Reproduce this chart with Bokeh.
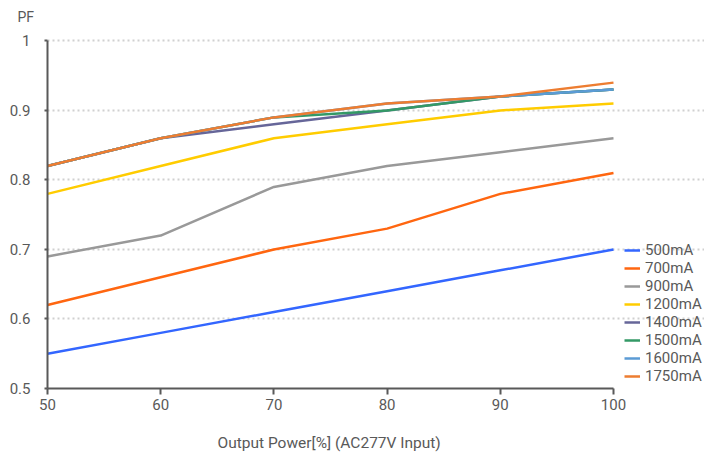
from bokeh.plotting import figure
from bokeh.models import Legend, LegendItem, FixedTicker, Title
from bokeh.embed import file_html
from bokeh.resources import INLINE

x_vals = [50, 60, 70, 80, 90, 100]
series_names = ["500mA", "700mA", "900mA", "1200mA", "1400mA", "1500mA", "1600mA", "1750mA"]
pf_500 = [0.55, 0.58, 0.61, 0.64, 0.67, 0.70]
pf_700 = [0.62, 0.66, 0.70, 0.73, 0.78, 0.81]
pf_900 = [0.69, 0.72, 0.79, 0.82, 0.84, 0.86]
pf_1200 = [0.78, 0.82, 0.86, 0.88, 0.90, 0.91]
pf_1400 = [0.82, 0.86, 0.88, 0.90, 0.92, 0.93]
pf_1500 = [0.82, 0.86, 0.89, 0.90, 0.92, 0.93]
pf_1600 = [0.82, 0.86, 0.89, 0.91, 0.92, 0.93]
pf_1750 = [0.82, 0.86, 0.89, 0.91, 0.92, 0.94]
colors = ["#3366ff", "#ff6610", "#999999", "#ffcc00", "#666699", "#339966", "#5b9bd5", "#ed7d31"]
y_ticks = [0.5, 0.6, 0.7, 0.8, 0.9, 1.0]
x_ticks = [50, 60, 70, 80, 90, 100]

FONT = "Roboto"
TXT = "#595959"

# The frame reaches the right edge (legend drawn inside it) and a little above 1.0;
# axis lines and grid are bounded to the data domain.
p = figure(width=704, height=457, output_backend="svg", toolbar_location=None,
           x_range=(50, 108.04), y_range=(0.5, 1.0078))
p.min_border_left = 47
p.min_border_top = 35
p.min_border_bottom = 69
p.min_border_right = 0
p.outline_line_color = None
p.background_fill_color = "white"
p.border_fill_color = "white"

p.title.text = "PF"
p.title.align = "left"
p.title.vertical_align = "top"
p.title.offset = -30
p.title.standoff = 17
p.title.text_font = FONT
p.title.text_font_size = "14px"
p.title.text_font_style = "normal"
p.title.text_color = TXT

all_series = [pf_500, pf_700, pf_900, pf_1200, pf_1400, pf_1500, pf_1600, pf_1750]
items = []
for name, ys, c in zip(series_names, all_series, colors):
    r = p.line(x_vals, ys, line_color=c, line_width=2.5)
    items.append(LegendItem(label=name, renderers=[r]))

for ax in (p.xaxis[0], p.yaxis[0]):
    ax.axis_line_color = "#595959"
    ax.axis_line_width = 2
    ax.major_tick_line_color = "#595959"
    ax.major_tick_line_width = 2
    ax.minor_tick_line_color = None
    ax.major_tick_in = 0
    ax.major_label_text_font = FONT
    ax.major_label_text_font_size = "15px"
    ax.major_label_text_color = TXT
    ax.major_label_text_font_style = "normal"

p.xaxis.bounds = (50, 100)
p.yaxis.bounds = (0.5, 1.0)
p.xaxis.ticker = FixedTicker(ticks=x_ticks)
p.yaxis.ticker = FixedTicker(ticks=y_ticks)
p.xaxis.major_tick_out = 6
p.yaxis.major_tick_out = 3
p.xaxis.major_label_standoff = 4
p.yaxis.major_label_standoff = 14
p.yaxis.major_label_overrides = {0.5: "0.5", 0.6: "0.6", 0.7: "0.7", 0.8: "0.8", 0.9: "0.9", 1.0: "1"}

x_title = Title(text="\nOutput Power[%] (AC277V Input)", align="left", offset=170,
                text_font=FONT, text_font_size="15.5px", text_font_style="normal",
                text_color=TXT, standoff=2)
p.add_layout(x_title, "below")

p.xgrid.grid_line_color = None
p.ygrid.grid_line_color = "#d0d0d0"
p.ygrid.grid_line_width = 2
p.ygrid.grid_line_dash = "2 3"
p.ygrid.bounds = (50, 100)

legend = Legend(items=items, location=(577, 3))
legend.label_text_font = FONT
legend.label_text_font_size = "15px"
legend.label_text_color = TXT
legend.glyph_width = 16
legend.glyph_height = 14
legend.label_height = 14
legend.label_standoff = 5
legend.spacing = 0
legend.padding = 4
legend.margin = 0
legend.border_line_color = None
legend.background_fill_alpha = 0
p.add_layout(legend)

open("out.html", "w").write(file_html(p, INLINE))
